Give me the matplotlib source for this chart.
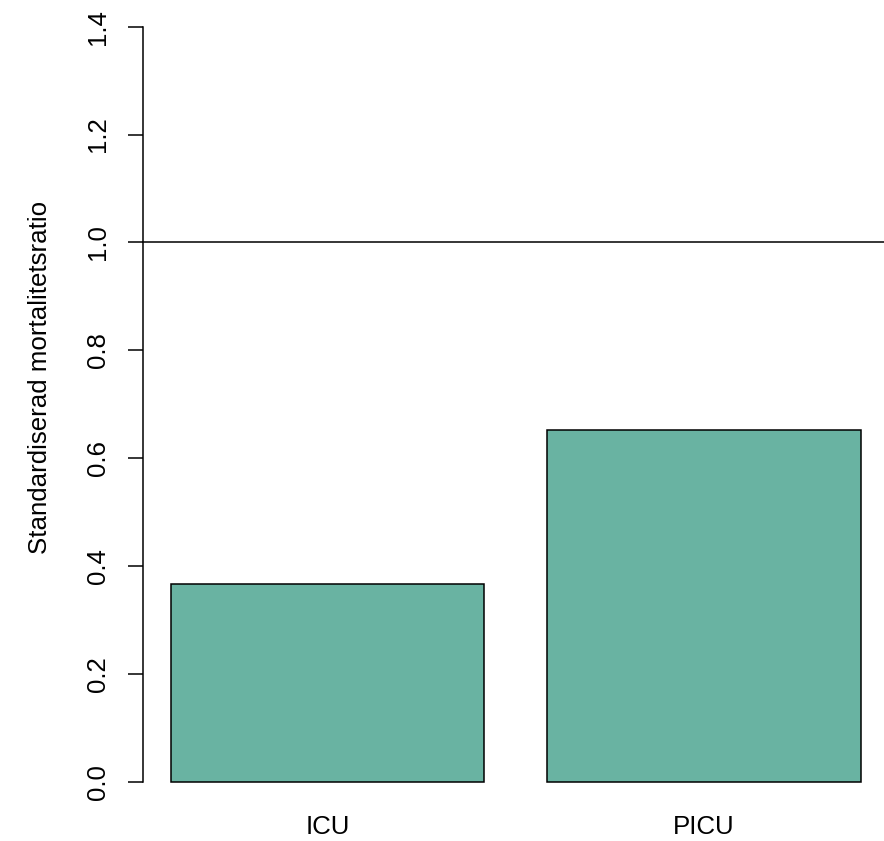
import matplotlib
matplotlib.use("Agg")
import matplotlib.pyplot as plt

plt.rcParams['font.family'] = ['Liberation Sans', 'DejaVu Sans']

# data
units = ["ICU", "PICU"]
smr = [0.367, 0.652]
ref_line = 1.0
yticks = [0.0, 0.2, 0.4, 0.6, 0.8, 1.0, 1.2, 1.4]

# R-style barplot geometry: width 1, space 0.2
width = 1.0
space = 0.2
lefts = [space + i * (width + space) for i in range(len(units))]
centers = [l + width / 2 for l in lefts]

fig = plt.figure(figsize=(8.84, 8.41), dpi=100)
ax = fig.add_axes([143.1 / 884, (841 - 811.9) / 841, (888.3 - 143.1) / 884, (811.9 + 3.5) / 841])

ax.bar(lefts, smr, width=width, align="edge", color="#69b3a2",
       edgecolor="black", linewidth=1.1)
ax.axhline(ref_line, color="black", linewidth=1.1, clip_on=False)

xmin, xmax = lefts[0], lefts[-1] + width
dx = (xmax - xmin) * 0.04
ax.set_xlim(xmin - dx, xmax + dx)
ax.set_ylim(-0.056, 1.456)

for s in ["top", "right", "bottom"]:
    ax.spines[s].set_visible(False)
ax.spines["left"].set_bounds(0, 1.4)
ax.spines["left"].set_linewidth(1.1)

ax.set_yticks(yticks)
ax.set_yticklabels(["%.1f" % v for v in yticks], rotation=90, va="center", fontsize=18.6)
ax.tick_params(axis="y", length=11, width=1.1, pad=12.5)

ax.set_xticks(centers)
ax.set_xticklabels(units, fontsize=18.6)
ax.tick_params(axis="x", length=0, pad=2)

ax.set_ylabel("Standardiserad mortalitetsratio", fontsize=18.6, labelpad=25, y=0.533)

fig.savefig("out.png", dpi=100)
